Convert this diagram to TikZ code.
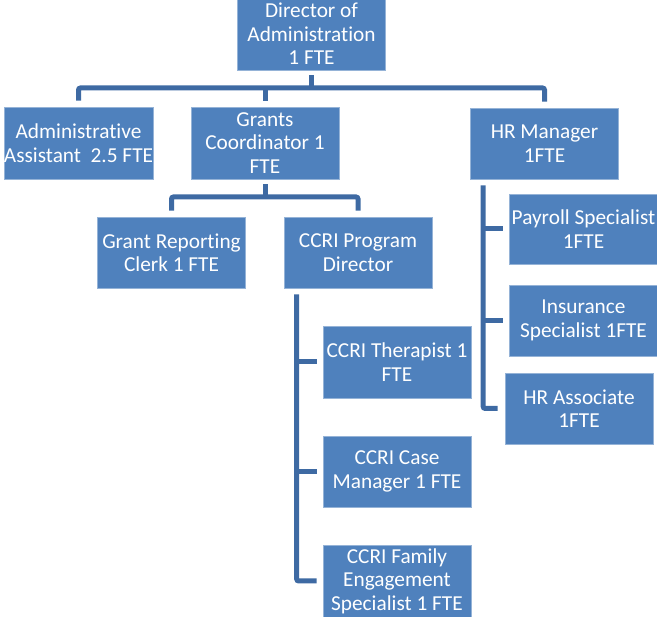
\documentclass[tikz,border=0pt]{standalone}
\usepackage{fontspec}
\setmainfont[RawFeature={-liga}]{Carlito}
\definecolor{boxblue}{HTML}{4F81BD}
\definecolor{linkblue}{HTML}{3E6AA3}
\begin{document}
\begin{tikzpicture}[x=1pt,y=-1pt,
  unit/.style={draw=boxblue!60!white, line width=0.6pt, fill=boxblue,
    text=white, align=center, inner sep=0pt,
    minimum width=148pt, minimum height=71pt,
    font=\fontsize{21.3}{23.5}\selectfont},
  conn/.style={draw=linkblue, line width=5pt, rounded corners=2pt}]
\useasboundingbox (0,0) rectangle (657,617);

% Boxes
\node[unit, minimum height=72pt] (dir) at (311.5,34) {Director of\\Administration\\1 FTE};
\node[unit, minimum height=72pt] (admin) at (78.5,143) {Administrative\\Assistant\ \ 2.5 FTE};
\node[unit, minimum height=72pt] (grants) at (265,143) {Grants\\Coordinator 1\\FTE};
\node[unit] (hr) at (544.5,143.5) {HR Manager\\1FTE};
\node[unit] (clerk) at (171.5,252.5) {Grant Reporting\\Clerk 1 FTE};
\node[unit] (ccri) at (358,252.5) {CCRI Program\\Director};
\node[unit, minimum height=72pt] (ther) at (397,362) {CCRI Therapist 1\\FTE};
\node[unit] (case) at (397,471.5) {CCRI Case\\Manager 1 FTE};
\node[unit, minimum height=72pt] (fam) at (397,581) {CCRI Family\\Engagement\\Specialist 1 FTE};
\node[unit, minimum height=70pt] (pay) at (583.5,229) {Payroll Specialist\\1FTE};
\node[unit] (ins) at (583.5,320.5) {Insurance\\Specialist 1FTE};
\node[unit] (assoc) at (579,408.5) {HR Associate\\1FTE};

% Top level
\draw[conn] ([yshift=-5pt]dir.south) -- (dir.south |- 0,88);
\draw[conn] ([yshift=6pt]admin.north) -- (admin.north |- 0,88)
  -- (hr.north |- 0,88) -- ([yshift=6pt]hr.north);
\draw[conn] ([yshift=6pt]grants.north) -- (grants.north |- 0,88);

% Grants Coordinator
\draw[conn] ([yshift=-5pt]grants.south) -- (grants.south |- 0,197);
\draw[conn] ([yshift=6pt]clerk.north) -- (clerk.north |- 0,197)
  -- (ccri.north |- 0,197) -- ([yshift=6pt]ccri.north);

% CCRI Program Director
\coordinate (cv) at ([xshift=13pt,yshift=-6pt]ccri.south west);
\draw[conn] (cv) |- ([xshift=-6pt]fam.west);
\draw[conn] (cv |- ther.west) -- ([xshift=-6pt]ther.west);
\draw[conn] (cv |- case.west) -- ([xshift=-6pt]case.west);

% HR Manager
\coordinate (hv) at ([xshift=13pt,yshift=-6pt]hr.south west);
\draw[conn] (hv) |- ([xshift=-7pt]assoc.west);
\draw[conn] (hv |- pay.west) -- ([xshift=-6pt]pay.west);
\draw[conn] (hv |- ins.west) -- ([xshift=-6pt]ins.west);
\end{tikzpicture}
\end{document}
